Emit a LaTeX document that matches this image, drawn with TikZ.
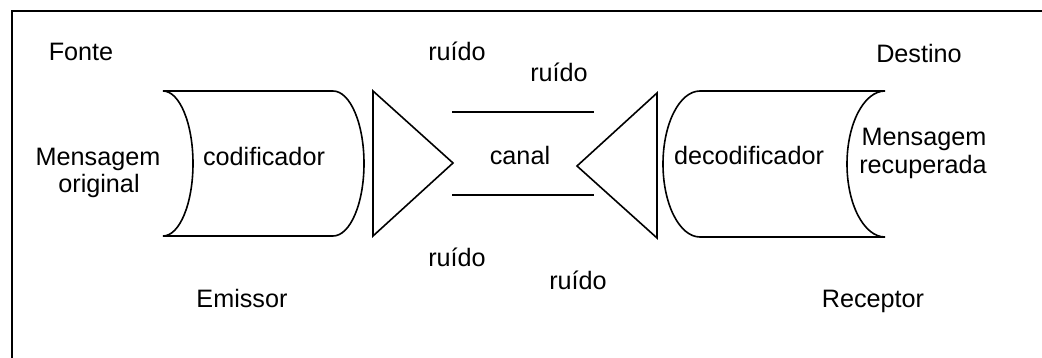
\documentclass[tikz,border=0pt]{standalone}
\usepackage{fontspec}
\setmainfont{Liberation Sans}
\begin{document}
\begin{tikzpicture}[x=1pt,y=-1pt, line width=1.6pt, line join=miter,
  lbl/.style={anchor=base, inner sep=0pt, font=\fontsize{25.2}{28}\selectfont}]
\useasboundingbox (0,0) rectangle (1042,358);
% frame
\draw (12,358) -- (12,11) -- (1042,11);
% codificador shape
\draw (163,91) -- (333,91)
  arc[start angle=-90, end angle=90, x radius=31, y radius=72.5]
  -- (163,236)
  arc[start angle=90, end angle=-90, x radius=30, y radius=72.5] -- cycle;
% emitter triangle
\coordinate (t1a) at (373,91);
\coordinate (t1b) at (373,236);
\coordinate (t1c) at (453,163);
\draw (t1a) -- (t1c) -- (t1b) -- cycle;
% receiver triangle
\coordinate (t2a) at (657,93);
\coordinate (t2b) at (657,238);
\coordinate (t2c) at (577,166);
\draw (t2a) -- (t2c) -- (t2b) -- cycle;
% channel lines
\coordinate (c1a) at (452,112);
\coordinate (c1b) at (594,112);
\coordinate (c2a) at (452,195);
\coordinate (c2b) at (594,195);
\draw (c1a) -- (c1b);
\draw (c2a) -- (c2b);
% decodificador shape
\draw (700,91)
  arc[start angle=270, end angle=90, x radius=37, y radius=73]
  -- (885,237)
  arc[start angle=90, end angle=270, x radius=38, y radius=73] -- cycle;
% labels
\node[lbl] (fonte) at (81,61) {Fonte};
\node[lbl] (r1) at (457,61) {ruído};
\node[lbl] (r2) at (559,82) {ruído};
\node[lbl] (destino) at (919,63) {Destino};
\node[lbl] (mo1) at (98,166) {Mensagem};
\node[lbl] (mo2) at (99,193) {original};
\node[lbl] (cod) at (264,166) {codificador};
\node[lbl] (canal) at (520,165) {canal};
\node[lbl] (dec) at (749,165) {decodificador};
\node[lbl] (mr1) at (924,146) {Mensagem};
\node[lbl] (mr2) at (923,174) {recuperada};
\node[lbl] (r3) at (457,267) {ruído};
\node[lbl] (r4) at (578,290) {ruído};
\node[lbl] (emissor) at (242,307) {Emissor};
\node[lbl] (receptor) at (873,307) {Receptor};
\end{tikzpicture}
\end{document}
